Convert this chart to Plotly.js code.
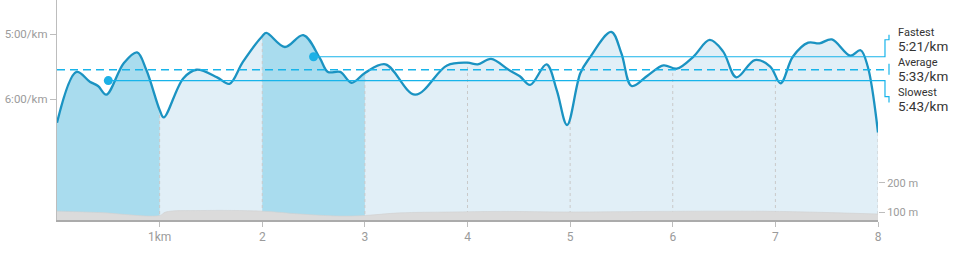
<!DOCTYPE html>
<html>
<head>
<meta charset="utf-8">
<script src="https://cdn.plot.ly/plotly-3.0.1.min.js"></script>
<style>
  html, body { margin: 0; padding: 0; background: #ffffff; }
  #chart { width: 954px; height: 257px; }
</style>
</head>
<body>
<div id="chart"></div>
<script>
// ---------- data (pace in seconds per km, distance in km) ----------
const distanceKm = [0.00, 0.19, 0.32, 0.40, 0.48, 0.65, 0.78, 0.87, 1.00, 1.04, 1.23, 1.36, 1.56, 1.68, 1.81, 2.00, 2.04, 2.22, 2.40, 2.56, 2.64, 2.76, 2.87, 3.00, 3.20, 3.49, 3.80, 4.00, 4.10, 4.23, 4.40, 4.51, 4.61, 4.77, 4.87, 4.97, 5.10, 5.19, 5.40, 5.50, 5.60, 5.76, 5.91, 6.04, 6.20, 6.36, 6.49, 6.62, 6.80, 6.95, 7.05, 7.17, 7.32, 7.43, 7.55, 7.73, 7.83, 7.90, 8.00];
const paceSec = [382, 335, 344, 348, 356, 327, 317, 333, 370, 377, 341, 333, 340, 346, 326, 302, 299, 312, 301, 322, 335, 335, 345, 336, 328, 356, 329, 326.5, 328, 323, 333, 339, 347, 328, 352, 384, 336, 322, 298, 318, 348, 338, 329, 332, 321, 305.5, 316, 340, 324, 330, 345.5, 321, 308, 308.6, 305, 320, 315, 330, 391];

const elevKm = [0, 0.42, 1.0, 1.06, 1.4, 2.0, 2.37, 2.76, 3.0, 3.34, 3.83, 4.32, 5.0, 5.78, 6.46, 7.04, 7.53, 8.0];
const elevM = [103, 98, 88, 100, 105, 103, 93, 86, 88, 97, 100, 102, 100, 102, 103, 102, 98, 93];

const highlightedLaps = [[0, 1], [2, 3]];

const kmTicks = [1, 2, 3, 4, 5, 6, 7, 8];
const kmTickLabels = ["1km", "2", "3", "4", "5", "6", "7", "8"];
const paceTicks = [300, 360];
const paceTickLabels = ["5:00/km", "6:00/km"];
const elevTicks = [100, 200];
const elevTickLabels = ["100 m", "200 m"];

const statLabels = ["Fastest", "Average", "Slowest"];
const statPace = [321, 333, 343];
const fastestKm = 2.5;
const slowestKm = 0.5;

// ---------- styling / layout constants ----------
const X_MAX = 8;
const Y_RANGE = [471.7, 268.6];   // reversed pace axis (bottom, top)
const Y2_RANGE = [72.4, 831];
const PLOT_H = 220;
const SEC_PER_PX = (Y_RANGE[0] - Y_RANGE[1]) / PLOT_H;
const LINE_BLUE = "#1b93c2";
const REF_BLUE = "#18b4ea";
const LIGHT_FILL = "#e1eff7";
const DARK_FILL = "#a9dcee";
const FONT = "Roboto, 'Open Sans', sans-serif";

function fmt(sec) {
  const m = Math.floor(sec / 60);
  const s = Math.round(sec - m * 60);
  return m + ":" + String(s).padStart(2, "0") + "/km";
}

const traces = [];
const hidden = { mode: "lines", line: { width: 0 }, hoverinfo: "skip", showlegend: false };

// light fill under whole curve
traces.push(Object.assign({ x: [0, X_MAX], y: [Y_RANGE[0], Y_RANGE[0]] }, hidden));
traces.push({
  x: distanceKm, y: paceSec, mode: "lines", line: { width: 0, shape: "spline", smoothing: 1 },
  fill: "tonexty", fillcolor: LIGHT_FILL, hoverinfo: "skip", showlegend: false
});

// highlighted laps
highlightedLaps.forEach(([a, b]) => {
  const xs = [], ys = [];
  distanceKm.forEach((d, i) => { if (d >= a - 1e-9 && d <= b + 1e-9) { xs.push(d); ys.push(paceSec[i]); } });
  traces.push(Object.assign({ x: [a, b], y: [Y_RANGE[0], Y_RANGE[0]] }, hidden));
  traces.push({
    x: xs, y: ys, mode: "lines", line: { width: 0, shape: "spline", smoothing: 1 },
    fill: "tonexty", fillcolor: DARK_FILL, hoverinfo: "skip", showlegend: false
  });
});

// dotted km gridlines
const gx = [], gy = [];
kmTicks.forEach(k => { gx.push(k, k, null); gy.push(Y_RANGE[0], Y_RANGE[1], null); });
traces.push({
  x: gx, y: gy, mode: "lines", line: { color: "#c9c9c9", width: 1, dash: "dot" },
  hoverinfo: "skip", showlegend: false
});

// white cover above curve (hides gridlines above the pace line)
traces.push(Object.assign({ x: [0, X_MAX], y: [Y_RANGE[1], Y_RANGE[1]] }, hidden));
traces.push({
  x: distanceKm, y: paceSec, mode: "lines", line: { width: 0, shape: "spline", smoothing: 1 },
  fill: "tonexty", fillcolor: "#ffffff", hoverinfo: "skip", showlegend: false
});

// pace line
traces.push({
  x: distanceKm, y: paceSec, mode: "lines",
  line: { color: LINE_BLUE, width: 2.3, shape: "spline", smoothing: 1 },
  hoverinfo: "skip", showlegend: false
});

// fastest / slowest dots
traces.push({
  x: [fastestKm, slowestKm], y: [statPace[0], statPace[2]], mode: "markers",
  marker: { color: "#1cb0e6", size: 9 }, hoverinfo: "skip", showlegend: false
});

// elevation
traces.push({
  x: elevKm, y: elevM, yaxis: "y2", mode: "lines",
  line: { color: "#d0d0d0", width: 0.6, shape: "spline" },
  fill: "tozeroy", fillcolor: "#dbdbdb", hoverinfo: "skip", showlegend: false
});

// ---------- reference lines & brackets ----------
const XB1 = 1.0085, XB2 = 1.0134;
const shapes = [
  {
    type: "path", xref: "paper", yref: "y", layer: "above",
    path: `M ${fastestKm / X_MAX},${statPace[0]} H ${XB1} V ${statPace[0] - 17 * SEC_PER_PX} H ${XB2} V ${statPace[0] - 22 * SEC_PER_PX}`,
    line: { color: REF_BLUE, width: 1.2 }
  },
  {
    type: "line", xref: "paper", yref: "y", layer: "above",
    x0: 0, x1: XB2, y0: statPace[1], y1: statPace[1],
    line: { color: REF_BLUE, width: 1.3, dash: "8px,5px" }
  },
  {
    type: "line", xref: "paper", yref: "y", layer: "above",
    x0: XB2, x1: XB2, y0: statPace[1] - 6 * SEC_PER_PX, y1: statPace[1] + 5 * SEC_PER_PX,
    line: { color: REF_BLUE, width: 1.2 }
  },
  {
    type: "path", xref: "paper", yref: "y", layer: "above",
    path: `M ${slowestKm / X_MAX},${statPace[2]} H ${XB1} V ${statPace[2] + 16 * SEC_PER_PX} H ${XB2} V ${statPace[2] + 22 * SEC_PER_PX}`,
    line: { color: REF_BLUE, width: 1.2 }
  }
];

const labelShift = [[24, 10.5], [7, -6.5], [-11.5, -25.5]];
const annotations = [];
statLabels.forEach((lab, i) => {
  annotations.push({
    xref: "paper", yref: "y", x: 1.0225, y: statPace[i], yshift: labelShift[i][0],
    xanchor: "left", yanchor: "middle", showarrow: false, text: lab,
    font: { family: FONT, size: 11, color: "#333333" }
  });
  annotations.push({
    xref: "paper", yref: "y", x: 1.0225, y: statPace[i], yshift: labelShift[i][1],
    xanchor: "left", yanchor: "middle", showarrow: false, text: fmt(statPace[i]),
    font: { family: FONT, size: 13.5, color: "#333333" }
  });
});

const layout = {
  width: 954, height: 257,
  margin: { l: 57, r: 76, t: 0, b: 37, pad: 0 },
  paper_bgcolor: "#ffffff", plot_bgcolor: "#ffffff",
  font: { family: FONT },
  showlegend: false,
  xaxis: {
    range: [0, X_MAX], showgrid: false, zeroline: false,
    showline: true, linecolor: "#ababab", linewidth: 1.5,
    ticks: "outside", ticklen: 5, tickcolor: "#bdbdbd", tickwidth: 1,
    tickvals: kmTicks, ticktext: kmTickLabels,
    tickfont: { family: FONT, size: 12, color: "#9b9b9b" }
  },
  yaxis: {
    range: Y_RANGE, showgrid: false, zeroline: false,
    showline: true, linecolor: "#bdbdbd", linewidth: 1.2,
    ticks: "outside", ticklen: 6, tickcolor: "#bdbdbd", tickwidth: 1,
    tickvals: paceTicks, ticktext: paceTickLabels,
    tickfont: { family: FONT, size: 11.5, color: "#9b9b9b" }
  },
  yaxis2: {
    overlaying: "y", side: "right", range: Y2_RANGE,
    showgrid: false, zeroline: false, showline: false,
    ticks: "outside", ticklen: 6, tickcolor: "#bdbdbd", tickwidth: 1,
    tickvals: elevTicks, ticktext: elevTickLabels,
    tickfont: { family: FONT, size: 11, color: "#9b9b9b" }
  },
  shapes: shapes,
  annotations: annotations
};

Plotly.newPlot("chart", traces, layout, { displayModeBar: false, staticPlot: true });
</script>
</body>
</html>
